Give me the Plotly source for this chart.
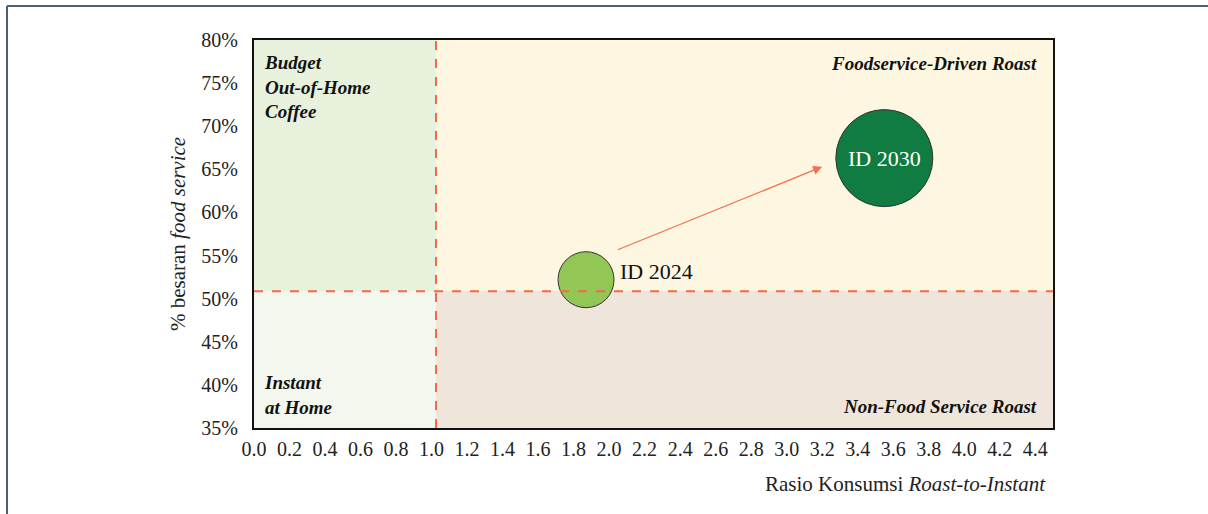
import plotly.graph_objects as go

# ---- data ----
labels = ["ID 2024", "ID 2030"]
ratio_roast_instant = [1.87, 3.55]
foodservice_share = [52.2, 66.3]
arrow_start = (2.04, 55.6)
arrow_end = (3.20, 65.3)
x_split = 1.025
y_split = 50.85
x_ticks = [round(i * 0.2, 1) for i in range(23)]
y_ticks = list(range(35, 81, 5))

# ---- style ----
bubble_diam = [56, 97]
SERIF = "Liberation Serif"
L, R, T, B = 254, 155, 40, 86
W, H = 1208, 514
PW, PH = W - L - R, H - T - B

fig = go.Figure()

quads = [
    (0, x_split, y_split, 80, "#E7F1DC"),
    (0, x_split, 35, y_split, "#F4F7EE"),
    (x_split, 4.5, y_split, 80, "#FDF7E1"),
    (x_split, 4.5, 35, y_split, "#EFE5DA"),
]
for x0, x1, y0, y1, c in quads:
    fig.add_shape(type="rect", xref="x", yref="y", x0=x0, x1=x1, y0=y0, y1=y1,
                  fillcolor=c, line_width=0, layer="below")

fig.add_shape(type="line", xref="x", yref="y", x0=x_split, x1=x_split, y0=35, y1=80,
              line=dict(color="#F26A4B", width=2, dash="dash"))
fig.add_shape(type="line", xref="x", yref="y", x0=0, x1=4.5, y0=y_split, y1=y_split,
              line=dict(color="#F26A4B", width=2, dash="dash"))

fig.add_trace(go.Scatter(
    x=ratio_roast_instant, y=foodservice_share, mode="markers",
    marker=dict(size=bubble_diam, color=["#92C755", "#107C41"],
                line=dict(color="#333333", width=1), opacity=1),
    hoverinfo="text", text=labels, showlegend=False))

fig.add_annotation(x=ratio_roast_instant[0], y=foodservice_share[0], text=labels[0],
                   xref="x", yref="y", showarrow=False, xanchor="left", xshift=bubble_diam[0] / 2 + 4,
                   yshift=8, font=dict(family=SERIF, size=22, color="#111111"))
fig.add_annotation(x=ratio_roast_instant[1], y=foodservice_share[1], text=labels[1],
                   xref="x", yref="y", showarrow=False,
                   font=dict(family=SERIF, size=22, color="#FFFFFF"))

fig.add_annotation(x=arrow_end[0], y=arrow_end[1], ax=arrow_start[0], ay=arrow_start[1],
                   xref="x", yref="y", axref="x", ayref="y", text="", showarrow=True,
                   arrowhead=2, arrowsize=1.4, arrowwidth=1.3, arrowcolor="#F47150")

qfont = dict(family=SERIF, size=19, color="#111111")
fig.add_annotation(x=0.045, y=74.55, xref="x", yref="y", xanchor="left", yanchor="middle", align="left",
                   showarrow=False, text="<b><i>Budget<br>Out-of-Home<br>Coffee</i></b>", font=qfont)
fig.add_annotation(x=4.42, y=77.33, xref="x", yref="y", xanchor="right", yanchor="middle",
                   showarrow=False, text="<b><i>Foodservice-Driven Roast</i></b>", font=qfont)
fig.add_annotation(x=0.045, y=38.83, xref="x", yref="y", xanchor="left", yanchor="middle", align="left",
                   showarrow=False, text="<b><i>Instant<br>at Home</i></b>", font=qfont)
fig.add_annotation(x=4.42, y=37.55, xref="x", yref="y", xanchor="right", yanchor="middle",
                   showarrow=False, text="<b><i>Non-Food Service Roast</i></b>", font=qfont)

fig.add_annotation(x=(178 - L) / PW, y=0.5, xref="paper", yref="paper", textangle=-90,
                   xanchor="center", yanchor="middle", showarrow=False,
                   text="% besaran <i>food service</i>", font=dict(family=SERIF, size=21, color="#222222"))
fig.add_annotation(x=(1048 - L) / PW, y=(H - B - 484) / PH, xref="paper", yref="paper",
                   xanchor="right", yanchor="middle", showarrow=False,
                   text="Rasio Konsumsi <i>Roast-to-Instant</i>",
                   font=dict(family=SERIF, size=21, color="#222222"))

# outer frame (left + top edges)
fx, fy = (7 - L) / PW, 1 + (T - 6) / PH
fig.add_shape(type="line", xref="paper", yref="paper", x0=fx, x1=fx, y0=fy, y1=-0.3,
              line=dict(color="#4E6070", width=2))
fig.add_shape(type="line", xref="paper", yref="paper", x0=fx, x1=1.3, y0=fy, y1=fy,
              line=dict(color="#4E6070", width=2))

fig.update_xaxes(range=[0, 4.5], tickvals=x_ticks, ticktext=[f"{v:.1f}" for v in x_ticks],
                 showgrid=False, zeroline=False, showline=True, mirror=True, linecolor="#111111",
                 linewidth=2, ticks="", ticklabelstandoff=2,
                 tickfont=dict(family=SERIF, size=20, color="#222222"))
fig.update_yaxes(range=[35, 80], tickvals=y_ticks, ticktext=[f"{v}%" for v in y_ticks],
                 showgrid=False, zeroline=False, showline=True, mirror=True, linecolor="#111111",
                 linewidth=2, ticks="", ticklabelstandoff=10,
                 tickfont=dict(family=SERIF, size=20, color="#222222"))

fig.update_layout(width=W, height=H, margin=dict(l=L, r=R, t=T, b=B),
                  paper_bgcolor="white", plot_bgcolor="white", showlegend=False)
fig.write_html("out.html", config={"displayModeBar": False},
               post_script="document.body.style.margin='0';")
